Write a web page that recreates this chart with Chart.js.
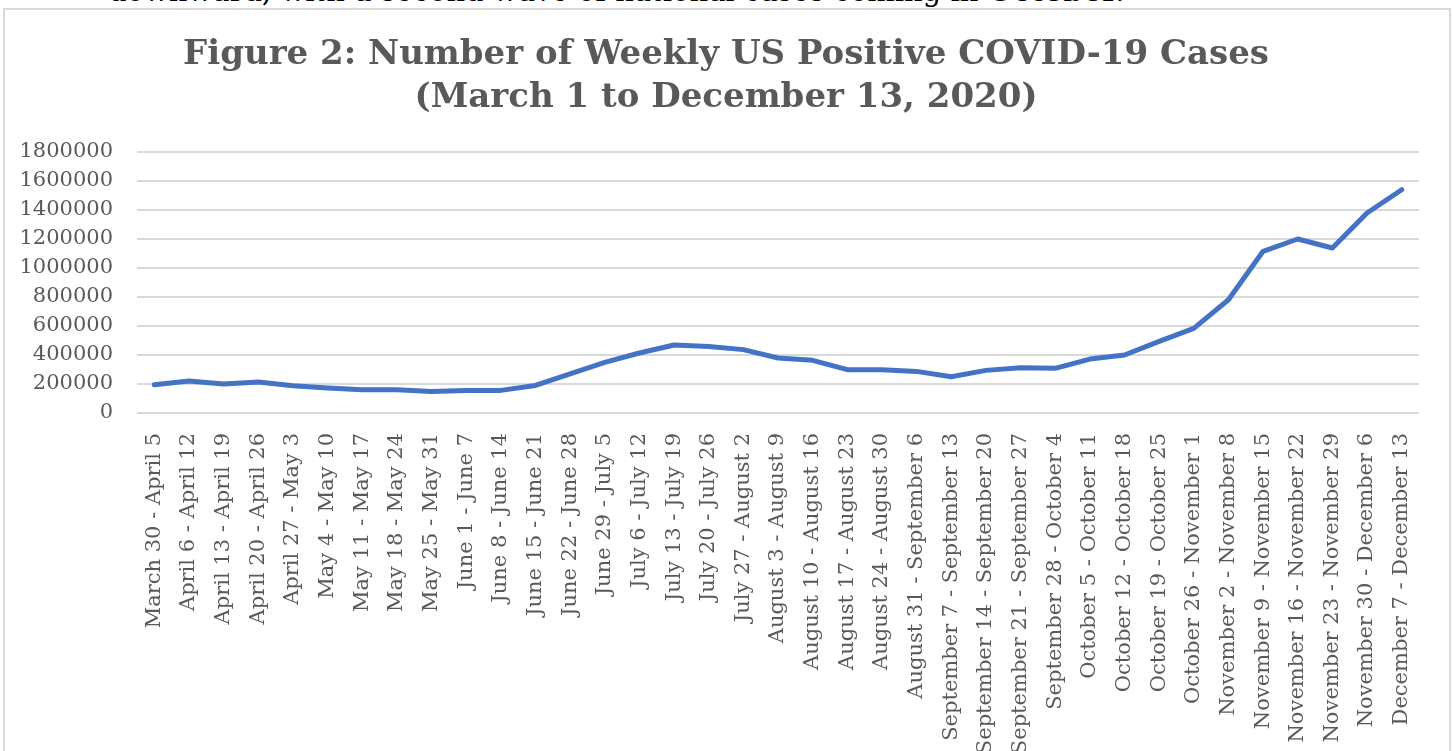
<!DOCTYPE html>
<html>
<head>
<meta charset="utf-8">
<script src="https://cdn.jsdelivr.net/npm/chart.js"></script>
<style>
  html, body { margin: 0; padding: 0; background: #fff; overflow: hidden; }
  body { width: 1452px; height: 751px; position: relative; }
  #lead { position: absolute; left: 108px; top: -26px; font: 29px "DejaVu Serif", serif; color: #000; white-space: nowrap; }
  #frame { position: absolute; left: 3px; top: 8px; width: 1444px; height: 800px; border: 2px solid #d9d9d9; }
  #wrap { position: absolute; left: 0; top: 0; width: 1452px; height: 751px; }
</style>
</head>
<body>
<div id="lead">downward, with a second wave of national cases coming in <b>October.</b></div>
<div id="frame"></div>
<div id="wrap"><canvas id="line-chart"></canvas></div>
<script>
const weeks = [
  "March 30 - April 5", "April 6 - April 12", "April 13 - April 19", "April 20 - April 26",
  "April 27 - May 3", "May 4 - May 10", "May 11 - May 17", "May 18 - May 24",
  "May 25 - May 31", "June 1 - June 7", "June 8 - June 14", "June 15 - June 21",
  "June 22 - June 28", "June 29 - July 5", "July 6 - July 12", "July 13 - July 19",
  "July 20 - July 26", "July 27 - August 2", "August 3 - August 9", "August 10 - August 16",
  "August 17 - August 23", "August 24 - August 30", "August 31 - September 6", "September 7 - September 13",
  "September 14 - September 20", "September 21 - September 27", "September 28 - October 4", "October 5 - October 11",
  "October 12 - October 18", "October 19 - October 25", "October 26 - November 1", "November 2 - November 8",
  "November 9 - November 15", "November 16 - November 22", "November 23 - November 29", "November 30 - December 6",
  "December 7 - December 13"
];
const cases = [
  195000, 220000, 200000, 214000, 188000, 172000, 160000, 160000,
  149000, 156000, 156000, 190000, 269000, 349000, 414000, 469000,
  459000, 437000, 379000, 363000, 299000, 299000, 287000, 250000,
  294000, 312000, 308000, 372000, 400000, 494000, 584000, 781000,
  1115000, 1200000, 1138000, 1379000, 1540000
];
const titleLines = ["Figure 2: Number of Weekly US Positive COVID-19 Cases", "(March 1 to December 13, 2020)"];

const grey = "#595959";
const serif = "'DejaVu Serif', serif";

// title centred on the whole page, not on the padded layout box
const pageTitle = {
    id: 'pageTitle',
    afterDraw(chart) {
        const ctx = chart.ctx;
        ctx.save();
        ctx.font = "bold 34px " + serif;
        ctx.fillStyle = grey;
        ctx.textAlign = 'center';
        ctx.textBaseline = 'middle';
        titleLines.forEach((line, i) => ctx.fillText(line, chart.width / 2, 55 + i * 43));
        ctx.restore();
    }
};

new Chart(document.getElementById("line-chart"), {
    type: 'line',
    data: {
        labels: weeks,
        datasets: [{
            data: cases,
            borderColor: "#4472C4",
            borderWidth: 5,
            pointRadius: 0,
            tension: 0,
            borderCapStyle: 'round',
            borderJoinStyle: 'round'
        }]
    },
    plugins: [pageTitle],
    options: {
        responsive: true,
        maintainAspectRatio: false,
        animation: false,
        layout: { padding: { top: 152, left: 0, right: 33, bottom: 0 } },
        plugins: {
            legend: { display: false },
            tooltip: { enabled: false },
            title: { display: false }
        },
        scales: {
            x: {
                offset: true,
                grid: { display: false },
                border: { display: false },
                ticks: {
                    color: grey,
                    font: { family: serif, size: 21 },
                    minRotation: 90,
                    maxRotation: 90,
                    autoSkip: false,
                    padding: 12
                },
                afterFit: (scale) => { scale.height = 338; }
            },
            y: {
                min: 0,
                max: 1800000,
                grid: { color: "#d9d9d9", lineWidth: 2, drawTicks: false },
                border: { display: false },
                ticks: {
                    stepSize: 200000,
                    color: grey,
                    font: { family: serif, size: 21 },
                    padding: 24,
                    callback: (v) => String(v)
                },
                afterFit: (scale) => { scale.width = 137; }
            }
        }
    }
});
</script>
</body>
</html>
